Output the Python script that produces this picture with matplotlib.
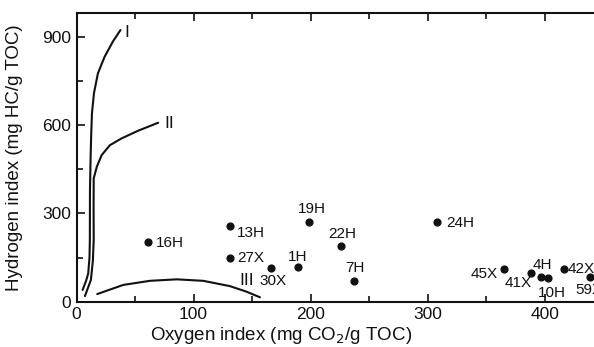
import matplotlib
matplotlib.use("Agg")
import matplotlib.pyplot as plt
from matplotlib.ticker import MultipleLocator

plt.rcParams['font.family'] = ['Liberation Sans', 'DejaVu Sans']

# Sample data (Oxygen index, Hydrogen index)
labels = ["16H", "13H", "27X", "30X", "1H", "19H", "22H", "7H", "24H",
          "45X", "41X", "4H", "10H", "42X", "59X"]
oi = [61, 131, 131, 166, 189, 199, 226, 237, 308, 365, 388, 397, 403, 417, 439]
hi = [204, 258, 147, 116, 117, 272, 189, 71, 272, 111, 99, 83, 80, 111, 83]
# label offsets in points (dx, dy) and alignment
offsets = [(6, -1, 'left'), (5, -5, 'left'), (5, 0, 'left'), (-8.5, -10, 'left'),
           (-7, 7.5, 'left'), (-8.5, 9, 'left'), (-9.5, 8.5, 'left'), (-6.5, 9, 'left'),
           (6.5, -1, 'left'), (-4, -3.5, 'right'), (1, -7.5, 'right'), (-6, 9, 'left'),
           (-7.5, -10.5, 'left'), (2.5, 0, 'left'), (-11, -9.5, 'left')]

# Kerogen type evolution curves
curve1_x = [5.1, 8.0, 9.9, 11.0, 11.3, 11.4, 12.0, 12.5, 13.1, 14.8, 18.2, 23.9, 31.0, 37.5]
curve1_y = [40, 70, 96, 150, 210, 380, 500, 572, 640, 708, 776, 832, 884, 923]
curve2_x = [7.1, 9.5, 12.2, 13.9, 14.6, 14.5, 14.6, 17.3, 21.4, 28.5, 38.5, 52.6, 69.7]
curve2_y = [19, 45, 74, 140, 210, 330, 419, 459, 498, 532, 555, 581, 608]
curve3_x = [17.6, 39.8, 62.6, 85.5, 108.2, 131.0, 145.3, 156.7]
curve3_y = [26, 57, 71, 76, 71, 53, 34, 15]
curve_names = ["I", "II", "III"]
curve_label_pos = [(41, 915), (75, 606), (139, 72)]

fig = plt.figure(figsize=(5.94, 3.47), dpi=100)
ax = fig.add_axes([0.129, 0.1305, 0.906, 0.833])

lw = 1.5
for cx, cy in [(curve1_x, curve1_y), (curve2_x, curve2_y), (curve3_x, curve3_y)]:
    ax.plot(cx, cy, color='#111111', lw=lw, solid_joinstyle='round',
            solid_capstyle='round')
for name, (cx, cy) in zip(curve_names, curve_label_pos):
    ax.text(cx, cy, name, fontsize=12.5, ha='left', va='center', color='#111111')

ax.scatter(oi, hi, s=24, color='#111111', zorder=3)
for lab, x, y, (dx, dy, ha) in zip(labels, oi, hi, offsets):
    ax.annotate(lab, (x, y), xytext=(dx, dy), textcoords='offset points',
                fontsize=11, ha=ha, va='center', color='#111111')

ax.set_xlim(0, 460)
ax.set_ylim(0, 982)
ax.xaxis.set_major_locator(MultipleLocator(100))
ax.xaxis.set_minor_locator(MultipleLocator(50))
ax.yaxis.set_major_locator(MultipleLocator(300))
ax.yaxis.set_minor_locator(MultipleLocator(150))
ax.tick_params(which='both', direction='in', top=True, right=False,
               labelsize=12.5, width=1.2, colors='#111111')
ax.tick_params(which='major', length=6)
ax.tick_params(which='minor', length=4)
ax.tick_params(axis='y', pad=4)
ax.tick_params(axis='x', pad=4)
for s in ax.spines.values():
    s.set_linewidth(1.5)
    s.set_color('#111111')

ax.set_ylabel("Hydrogen index (mg HC/g TOC)", fontsize=13.5, color='#111111')
ax.set_xlabel("Oxygen index (mg CO$_2$/g TOC)", fontsize=13.5, color='#111111')
ax.xaxis.set_label_coords(0.38, -0.08)
ax.yaxis.set_label_coords(-0.1, 0.5)

fig.savefig("out.png", dpi=100)
